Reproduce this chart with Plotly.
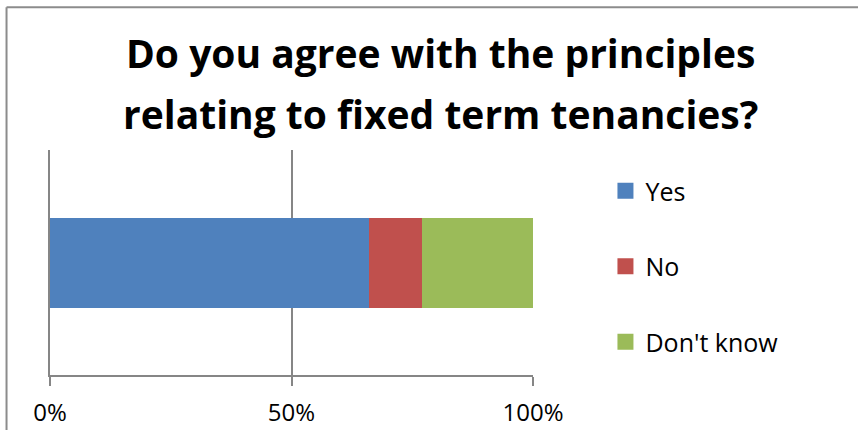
import plotly.graph_objects as go

categories = [""]
series_names = ["Yes", "No", "Don't know"]
series_values = [[66], [11], [23]]
series_colors = ["#4F81BD", "#C0504D", "#9BBB59"]
tick_values = [0, 50, 100]
tick_labels = ["0%", "50%", "100%"]
title_lines = ["Do you agree with the principles", "relating to fixed term tenancies?"]

fig = go.Figure()
for name, vals, col in zip(series_names, series_values, series_colors):
    fig.add_trace(go.Bar(
        y=categories, x=vals, name=name, orientation="h",
        marker=dict(color=col, line=dict(width=0)),
        legendgroup=name, width=0.4, showlegend=False,
    ))
    # legend entry with a larger square swatch
    fig.add_trace(go.Scatter(
        x=[None], y=[None], name=name, mode="markers",
        marker=dict(symbol="square", size=16, color=col),
        legendgroup=name, showlegend=True,
    ))

annotations = []
for text, ypos in zip(title_lines, [1.433, 1.162]):
    annotations.append(dict(
        text="<b>" + text + "</b>", xref="paper", yref="paper",
        x=0.808, y=ypos, xanchor="center", yanchor="middle",
        showarrow=False, font=dict(size=39, family="Open Sans, sans-serif", color="#000000"),
    ))

fig.update_layout(
    width=858, height=430,
    barmode="stack",
    paper_bgcolor="white", plot_bgcolor="white",
    margin=dict(l=50, r=325, t=150, b=55, autoexpand=False),
    font=dict(family="Open Sans, sans-serif", color="#000000"),
    annotations=annotations,
    xaxis=dict(
        range=[0, 100], tickvals=tick_values, ticktext=tick_labels,
        showgrid=True, gridcolor="#868686", gridwidth=2,
        showline=True, linecolor="#868686", linewidth=2,
        ticks="outside", ticklen=9, tickwidth=2, tickcolor="#868686",
        tickfont=dict(size=24), ticklabelstandoff=6, automargin=False,
        zeroline=False, fixedrange=True,
    ),
    yaxis=dict(
        range=[-0.5, 0.5], showticklabels=False, showgrid=False,
        showline=True, linecolor="#868686", linewidth=2, zeroline=False,
        ticks="", automargin=False,
    ),
    legend=dict(
        x=1.15, xanchor="left", y=0.92, yanchor="top",
        traceorder="grouped", tracegroupgap=40,
        font=dict(size=25), itemwidth=30,
    ),
    shapes=[
        dict(type="line", xref="paper", yref="paper",
             x0=-0.09, x1=1.7, y0=1.635, y1=1.635,
             line=dict(color="#8C8C8C", width=2)),
        dict(type="line", xref="paper", yref="paper",
             x0=-0.09, x1=-0.09, y0=-0.3, y1=1.635,
             line=dict(color="#8C8C8C", width=2)),
    ],
)

fig.write_html("out.html")
